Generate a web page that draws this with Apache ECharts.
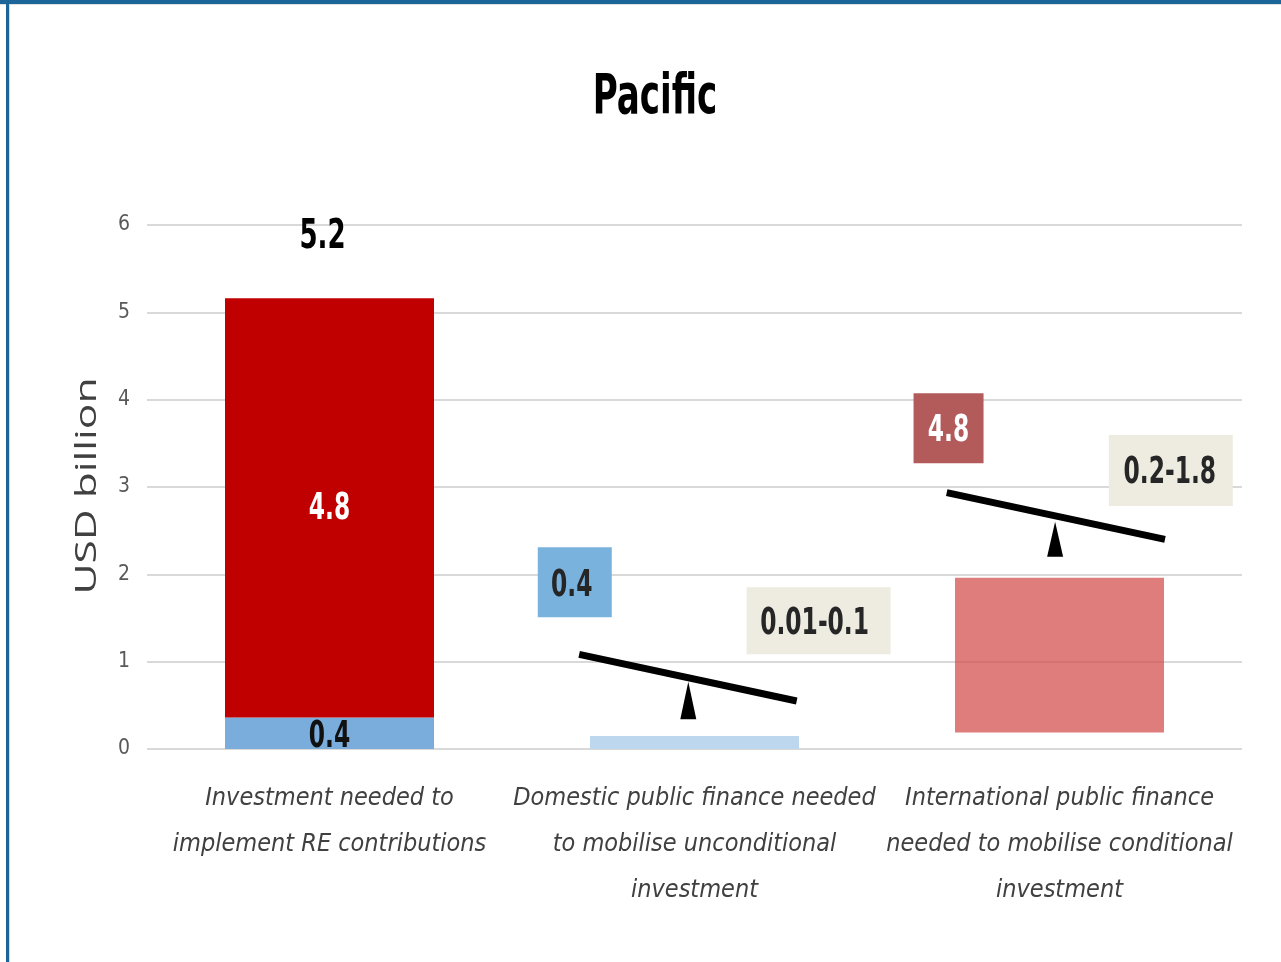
<!DOCTYPE html>
<html><head><meta charset="utf-8">
<script src="https://cdn.jsdelivr.net/npm/echarts@6/dist/echarts.min.js"></script>
<style>html,body{margin:0;padding:0;background:#fff;}#c{width:1281px;height:962px;}</style>
</head><body><div id="c"></div>
<script>
// ---- data ----
const categories = [
  'Investment needed to\nimplement RE contributions',
  'Domestic public finance needed\nto mobilise unconditional\ninvestment',
  'International public finance\nneeded to mobilise conditional\ninvestment'
];
const yTicks = [0, 1, 2, 3, 4, 5, 6];
const baseValues = [0, 0, 0.19];
const domesticValues = [0.36, 0.15, 0];
const internationalValues = [4.8, 0, 1.77];
const domesticLabels = ['0.4', '', ''];
const internationalLabels = ['4.8', '', ''];
const totalLabels = ['5.2', '', ''];
const calloutTexts = ['0.4', '0.01-0.1', '4.8', '0.2-1.8'];
// callout centres in data units (x on 0..3 band scale, y in USD billion)
const calloutX = [1.172, 1.840, 2.196, 2.805];
const calloutY = [1.909, 1.468, 3.672, 3.189];
// seesaw beam ends and fulcrum (data units)
const beamX1 = [1.184, 2.191];
const beamY1 = [1.084, 2.935];
const beamX2 = [1.780, 2.789];
const beamY2 = [0.55, 2.401];
const fulcrumX = [1.483, 2.488];
const fulcrumTopY = [0.771, 2.603];
const fulcrumBaseY = [0.34, 2.202];

// ---- styles ----
const FONT = "'Liberation Sans Narrow', 'DejaVu Sans Condensed', Roboto, sans-serif";
const calloutSizes = [[74, 70], [144, 67], [70, 70], [124, 71]];
const calloutTextOffset = [[-3, 4], [-4, 4], [0, 3], [-1, 3]];
const calloutFill = ['#7ab2de', '#eeece1', '#b35b5b', '#eeece1'];
const calloutColor = ['#262626', '#262626', '#ffffff', '#262626'];
const domesticColors = ['#7aaddc', '#bdd7ee', '#bdd7ee'];
const internationalColors = ['#c00000', 'rgba(209,68,68,0.7)', 'rgba(209,68,68,0.7)'];
const STRETCH = 1.4;

const chart = echarts.init(document.getElementById('c'), null, {renderer: 'canvas'});

const totals = categories.map((_, i) => baseValues[i] + domesticValues[i] + internationalValues[i]);
const domesticMid = categories.map((_, i) => baseValues[i] + domesticValues[i] / 2);
const internationalMid = categories.map((_, i) => baseValues[i] + domesticValues[i] + internationalValues[i] / 2);

function stretchedText(text, x, y, size, color) {
  return {type: 'text', x: x, y: y, scaleY: STRETCH,
    style: {text: text, x: 0, y: 0, textAlign: 'center', textVerticalAlign: 'middle',
      font: 'bold ' + size + 'px ' + FONT, fill: color}};
}

const option = {
  backgroundColor: '#ffffff',
  animation: false,
  grid: {left: 147, right: 39, top: 225, bottom: 213, containLabel: false},
  xAxis: [{
    type: 'category', data: categories,
    axisLine: {show: false}, axisTick: {show: false},
    axisLabel: {fontFamily: FONT, fontStyle: 'italic', fontSize: 25, color: '#404040',
      lineHeight: 46, margin: 26, interval: 0}
  }, {
    type: 'value', min: 0, max: 3, show: false
  }],
  yAxis: {
    type: 'value', min: 0, max: 6, interval: 1,
    axisLine: {show: false}, axisTick: {show: false},
    axisLabel: {fontFamily: FONT, fontSize: 21, color: '#595959', margin: 17, padding: [7, 0, 0, 0],
      formatter: v => String(yTicks[yTicks.indexOf(v)])},
    splitLine: {lineStyle: {color: '#d9d9d9', width: 2}}
  },
  series: [
    {
      name: 'base', type: 'bar', stack: 'total', barWidth: 209, silent: true,
      itemStyle: {color: 'transparent'},
      data: baseValues
    },
    {
      name: 'domestic', type: 'bar', stack: 'total', barWidth: 209,
      data: domesticValues.map((v, i) => ({value: v, itemStyle: {color: domesticColors[i]}}))
    },
    {
      name: 'international', type: 'bar', stack: 'total', barWidth: 209,
      data: internationalValues.map((v, i) => ({value: v, itemStyle: {color: internationalColors[i]}}))
    },
    {
      name: 'barLabels', type: 'custom', xAxisIndex: 0, yAxisIndex: 0, silent: true, z: 5,
      data: totals.map((t, i) => [i, t, domesticMid[i], internationalMid[i]]),
      renderItem(params, api) {
        const i = params.dataIndex;
        const pt = api.coord([api.value(0), api.value(1)]);
        const pd = api.coord([api.value(0), api.value(2)]);
        const pi = api.coord([api.value(0), api.value(3)]);
        const kids = [];
        if (totalLabels[i]) kids.push(stretchedText(totalLabels[i], pt[0] - 7, pt[1] - 61, 29, '#000'));
        if (domesticLabels[i]) kids.push(stretchedText(domesticLabels[i], pd[0], pd[1] + 4, 26, '#111'));
        if (internationalLabels[i]) kids.push(stretchedText(internationalLabels[i], pi[0], pi[1] + 2, 26, '#fff'));
        return {type: 'group', children: kids};
      }
    },
    {
      name: 'seesaw', type: 'custom', xAxisIndex: 1, yAxisIndex: 0, silent: true, z: 6,
      data: beamX1.map((_, i) => [beamX1[i], beamY1[i], beamX2[i], beamY2[i], fulcrumX[i], fulcrumTopY[i], fulcrumBaseY[i]]),
      renderItem(params, api) {
        const a = api.coord([api.value(0), api.value(1)]);
        const b = api.coord([api.value(2), api.value(3)]);
        const f1 = api.coord([api.value(4), api.value(5)]);
        const f2 = api.coord([api.value(4), api.value(6)]);
        return {type: 'group', children: [
          {type: 'line', shape: {x1: a[0], y1: a[1], x2: b[0], y2: b[1]},
            style: {stroke: '#000', lineWidth: 7}},
          {type: 'polygon', shape: {points: [[f1[0], f1[1]], [f1[0] - 8, f2[1]], [f1[0] + 8, f2[1]]]},
            style: {fill: '#000'}}
        ]};
      }
    },
    {
      name: 'callouts', type: 'custom', xAxisIndex: 1, yAxisIndex: 0, silent: true, z: 7,
      data: calloutX.map((x, i) => [x, calloutY[i]]),
      renderItem(params, api) {
        const i = params.dataIndex;
        const c = api.coord([api.value(0), api.value(1)]);
        const s = calloutSizes[i];
        const o = calloutTextOffset[i];
        return {type: 'group', children: [
          {type: 'rect', shape: {x: c[0] - s[0] / 2, y: c[1] - s[1] / 2, width: s[0], height: s[1]},
            style: {fill: calloutFill[i]}},
          stretchedText(calloutTexts[i], c[0] + o[0], c[1] + o[1], 26, calloutColor[i])
        ]};
      }
    }
  ],
  graphic: [
    {type: 'text', x: 655, y: 99, scaleY: 1.45,
      style: {text: 'Pacific', x: 0, y: 0, textAlign: 'center', textVerticalAlign: 'middle',
        font: 'bold 38px ' + FONT, fill: '#000'}},
    {type: 'text', x: 87, y: 486, rotation: Math.PI / 2, scaleX: 1.42,
      style: {text: 'USD billion', x: 0, y: 0, textAlign: 'center', textVerticalAlign: 'middle',
        font: "30px 'Open Sans', sans-serif", fill: '#404040'}},
    {type: 'rect', shape: {x: 0, y: 0, width: 1281, height: 4}, style: {fill: '#1b6598'}, z: 100},
    {type: 'rect', shape: {x: 0, y: 4, width: 1281, height: 1}, style: {fill: '#e0e0e0'}, z: 100},
    {type: 'rect', shape: {x: 6, y: 0, width: 3, height: 962}, style: {fill: '#1b6598'}, z: 100},
    {type: 'rect', shape: {x: 9, y: 4, width: 1, height: 958}, style: {fill: '#d8d8d8'}, z: 100}
  ]
};
chart.setOption(option);
</script>
</body></html>
